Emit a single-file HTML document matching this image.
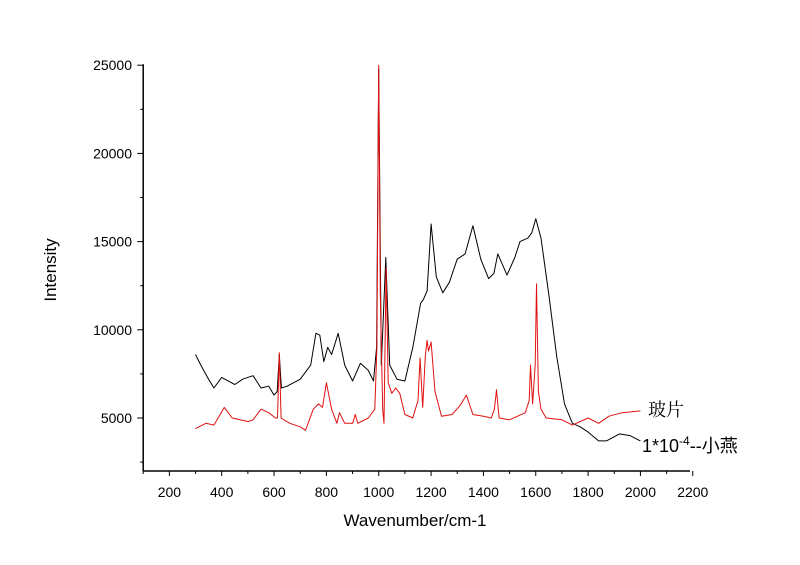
<!DOCTYPE html>
<html><head><meta charset="utf-8"><style>
body{margin:0;background:#fff}
svg{display:block;font-family:"Liberation Sans","Noto Sans CJK SC",sans-serif}
</style></head><body>
<svg id="chart" width="800" height="565">
<g id="axes"></g><g id="series"></g>
<text x="415" y="526" text-anchor="middle" font-size="17">Wavenumber/cm-1</text>
<text x="0" y="0" transform="translate(56,270) rotate(-90)" text-anchor="middle" font-size="17">Intensity</text>
<text x="648" y="416" font-size="18" font-family="'Noto Serif CJK SC',serif">玻片</text>
<text x="642" y="452" font-size="18">1*10<tspan dy="-7" font-size="12">-4</tspan><tspan dy="7">--小燕</tspan></text>
</svg>
<script>
const xTicks=[200,400,600,800,1000,1200,1400,1600,1800,2000,2200];
const yTicks=[5000,10000,15000,20000,25000];
const blackX=[300,320,350,370,400,450,480,520,550,580,600,612,620,628,650,700,740,760,775,790,805,820,845,870,900,930,960,980,992,1000,1010,1027,1042,1070,1100,1130,1160,1170,1185,1200,1220,1245,1270,1300,1330,1360,1390,1420,1440,1455,1470,1490,1520,1540,1570,1585,1600,1620,1650,1680,1710,1740,1770,1800,1840,1870,1920,1960,2000];
const blackY=[8600,8000,7200,6700,7300,6900,7200,7400,6700,6800,6300,6500,8600,6700,6800,7200,8000,9800,9700,8200,9000,8600,9800,8000,7100,8100,7700,7100,9000,24800,8000,14100,8000,7200,7100,9000,11500,11700,12200,16000,13000,12100,12700,14000,14300,15900,14000,12900,13200,14300,13800,13100,14100,15000,15200,15500,16300,15200,12000,8500,5800,4700,4500,4200,3700,3700,4100,4000,3700];
const redX=[300,340,370,410,440,500,520,550,580,605,613,620,627,660,700,720,750,770,785,800,820,840,850,870,900,910,920,960,985,993,1000,1006,1015,1020,1028,1036,1050,1065,1080,1100,1130,1150,1158,1168,1178,1185,1190,1200,1215,1240,1280,1310,1335,1360,1400,1430,1442,1450,1460,1500,1560,1575,1580,1588,1598,1603,1610,1620,1640,1700,1740,1800,1840,1880,1930,2000];
const redY=[4400,4700,4600,5600,5000,4800,4900,5500,5300,5000,5000,8700,5000,4700,4500,4300,5500,5800,5600,7000,5500,4700,5300,4700,4700,5200,4700,5000,5500,9000,25000,12000,5500,4700,13500,7000,6400,6700,6400,5200,5000,6000,8400,5600,8500,9400,8800,9300,6500,5100,5200,5700,6300,5200,5100,5000,5500,6600,5000,4900,5300,6000,8000,5800,8000,12600,6500,5500,5000,4900,4600,5000,4700,5100,5300,5400];
const NS='http://www.w3.org/2000/svg';
const X0=143.2,Y0=471;
function sx(v){return X0+(v-100)*0.2617;}
function sy(i){return 418-(i-5000)*0.01764;}
const axes=document.getElementById('axes');
function mk(tag,attrs,parent){const e=document.createElementNS(NS,tag);for(const k in attrs)e.setAttribute(k,attrs[k]);parent.appendChild(e);return e;}
let a=mk('line',{x1:X0,y1:Y0,x2:690,y2:Y0,stroke:'#000','stroke-width':1.5},axes);


a=mk('line',{x1:X0,y1:Y0,x2:X0,y2:sy(25000)-1,stroke:'#000','stroke-width':1.5},axes);


for(let v=100;v<=2200;v+=100){const major=v%200===0;const t=mk('line',{x1:sx(v),y1:Y0,x2:sx(v),y2:Y0+(major?5:3),stroke:'#000','stroke-width':1},axes);

}
xTicks.forEach(v=>{const t=mk('text',{x:sx(v),y:497,'text-anchor':'middle','font-size':14},axes);t.textContent=v;

});
for(let v=2500;v<=25000;v+=2500){const major=v%5000===0;const t=mk('line',{x1:X0,y1:sy(v),x2:X0-(major?6:3),y2:sy(v),stroke:'#000','stroke-width':1},axes);

}
yTicks.forEach(v=>{const t=mk('text',{x:132,y:sy(v)+5,'text-anchor':'end','font-size':14},axes);t.textContent=v;

});
const ser=document.getElementById('series');
function line(xs,ys,color,name){const pts=xs.map((x,i)=>sx(x).toFixed(1)+','+sy(ys[i]).toFixed(1)).join(' ');
const p=mk('polyline',{points:pts,fill:'none',stroke:color,'stroke-width':1,'stroke-linejoin':'round'},ser);

}
line(blackX,blackY,'#000','series-sample-line');
line(redX,redY,'#e01010','series-glass-line');
</script>
</body></html>
